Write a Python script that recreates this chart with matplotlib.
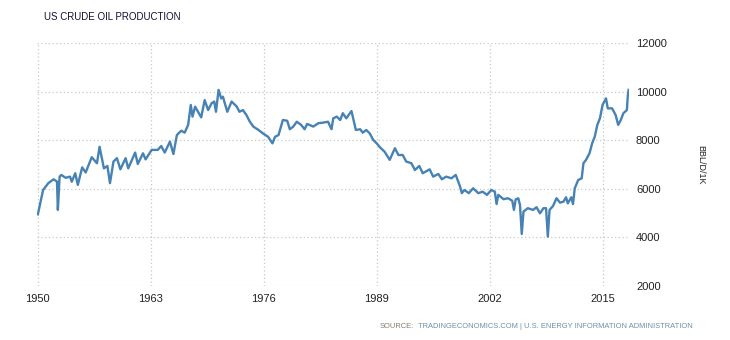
# US crude oil production chart (TradingEconomics style)

import numpy as np
import matplotlib
matplotlib.use("Agg")
import matplotlib.pyplot as plt

# values, year (fractional) vs BBL/D/1K
years = [1950.0, 1950.6, 1951.2, 1951.8, 1952.2, 1952.3, 1952.5, 1952.7, 1953.2, 1953.7, 1953.9,
         1954.3, 1954.6, 1955.1, 1955.5, 1956.2, 1956.8, 1957.1, 1957.6, 1958.0, 1958.3,
         1958.7, 1959.1, 1959.5, 1960.1, 1960.4, 1961.2, 1961.5, 1962.1, 1962.4, 1963.1,
         1963.8, 1964.2, 1964.6, 1965.2, 1965.6, 1966.0, 1966.5, 1966.9, 1967.3, 1967.6,
         1967.8, 1968.1, 1968.8, 1969.2, 1969.6, 1970.0, 1970.3, 1970.5, 1970.8, 1971.1,
         1971.3, 1971.8, 1972.3, 1972.9, 1973.2, 1973.6, 1974.0, 1974.4, 1974.8, 1975.4,
         1975.9, 1976.5, 1977.0, 1977.3, 1977.7, 1978.2, 1978.7, 1979.0, 1979.4, 1979.8,
         1980.3, 1980.7, 1981.0, 1981.7, 1982.3, 1982.8, 1983.4, 1983.8, 1984.0, 1984.4,
         1984.8, 1985.1, 1985.5, 1986.1, 1986.6, 1987.1, 1987.4, 1987.8, 1988.2, 1988.6,
         1989.0, 1989.4, 1989.9, 1990.5, 1991.1, 1991.5, 1992.0, 1992.4, 1993.0, 1993.4,
         1993.9, 1994.3, 1995.1, 1995.5, 1996.1, 1996.5, 1997.0, 1997.6, 1998.1, 1998.6,
         1998.8, 1999.1, 1999.6, 2000.1, 2000.7, 2001.2, 2001.7, 2002.2, 2002.6, 2002.8,
         2003.0, 2003.6, 2004.1, 2004.6, 2004.8, 2005.0, 2005.3, 2005.5, 2005.7, 2005.9,
         2006.4, 2007.0, 2007.4, 2007.8, 2008.2, 2008.5, 2008.7, 2008.9, 2009.3, 2009.7,
         2010.1, 2010.5, 2010.8, 2011.0, 2011.4, 2011.6, 2011.8, 2012.2, 2012.6, 2012.8,
         2013.1, 2013.5, 2013.8, 2014.1, 2014.4, 2014.7, 2015.0, 2015.4, 2015.6, 2016.1,
         2016.5, 2016.8, 2017.1, 2017.4, 2017.8, 2017.9, 2018.0]
production = [4950, 5950, 6230, 6390, 6300, 5130, 6500, 6570, 6450, 6500, 6290,
              6640, 6160, 6880, 6670, 7300, 7050, 7730, 6840, 6940, 6230,
              7120, 7260, 6800, 7260, 6840, 7490, 7020, 7460, 7210, 7600,
              7600, 7760, 7490, 7940, 7430, 8210, 8390, 8310, 8630, 9450,
              8970, 9380, 8940, 9650, 9240, 9520, 9590, 9170, 10070, 9720,
              9790, 9170, 9590, 9380, 9170, 9240, 9040, 8760, 8560, 8420,
              8280, 8140, 7870, 8140, 8210, 8830, 8800, 8450, 8560, 8760,
              8630, 8450, 8670, 8560, 8700, 8720, 8760, 8450, 8900, 8970,
              8830, 9110, 8900, 9200, 8420, 8450, 8310, 8420, 8280, 8010,
              7870, 7700, 7530, 7190, 7670, 7390, 7390, 7120, 7050, 6770,
              6940, 6640, 6800, 6500, 6610, 6390, 6500, 6430, 6570, 6090,
              5820, 5950, 5820, 6020, 5820, 5880, 5750, 5950, 5880, 5370,
              5750, 5570, 5610, 5510, 5130, 5560, 5610, 5330, 4140, 5060,
              5200, 5130, 5240, 4990, 5200, 5200, 4030, 5130, 5290, 5610,
              5430, 5470, 5650, 5400, 5650, 5370, 6020, 6360, 6430, 7050,
              7190, 7460, 7870, 8140, 8630, 8900, 9450, 9720, 9310, 9310,
              9040, 8630, 8830, 9110, 9240, 9790, 10070]

x_ticks = [1950, 1963, 1976, 1989, 2002, 2015]
y_ticks = [2000, 4000, 6000, 8000, 10000, 12000]

plt.rcParams['font.family'] = ['Liberation Sans', 'DejaVu Sans']

fig = plt.figure(figsize=(7.3, 3.4), dpi=100)
ax = fig.add_axes([0.0507, 0.159, 0.811, 0.7145])

ax.plot(years, production, color="#4682b4", linewidth=1.7, solid_joinstyle="round")

ax.set_xlim(1949.9, 2018.05)
ax.set_ylim(2000, 12000)
ax.set_xticks(x_ticks)
ax.set_yticks(y_ticks)
ax.yaxis.tick_right()
ax.yaxis.set_label_position("right")
ax.tick_params(length=0, labelsize=8, colors="#222222")
ax.tick_params(axis="y", pad=5)
ax.tick_params(axis="x", pad=6)
for s in ax.spines.values():
    s.set_visible(False)
ax.grid(True, color="#c8c8c8", linestyle=(0, (1, 2)), linewidth=0.9)
ax.set_axisbelow(True)

ax.set_ylabel("BBL/D/1K", rotation=-90, fontsize=6.5, color="#222222", labelpad=21, va="bottom")

fig.text(44 / 730, 1 - 17 / 340, "US CRUDE OIL PRODUCTION", fontsize=7, color="#111133",
         ha="left", va="center")
fig.text(414 / 730, 1 - 326 / 340, "SOURCE:", fontsize=5.4, color="#8a7a6a", ha="right", va="center")
fig.text(418 / 730, 1 - 326 / 340, "TRADINGECONOMICS.COM | U.S. ENERGY INFORMATION ADMINISTRATION",
         fontsize=5.4, color="#6f8fa8", ha="left", va="center")

plt.savefig("out.png", dpi=100)
